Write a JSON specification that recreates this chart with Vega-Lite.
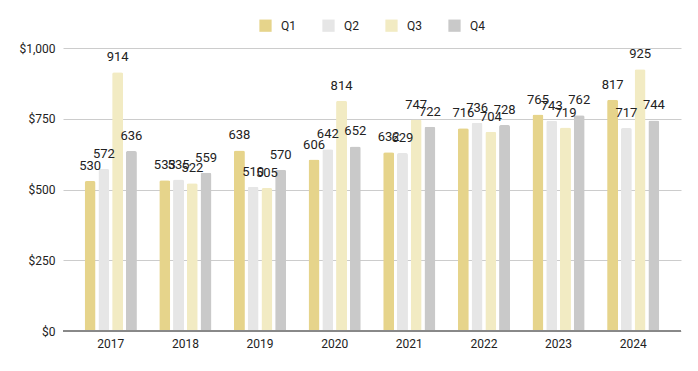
{
  "$schema": "https://vega.github.io/schema/vega-lite/v6.json",
  "width": 698,
  "height": 371,
  "autosize": {"type": "fit", "contains": "padding"},
  "padding": {"left": 18, "right": 16, "top": 19, "bottom": 22},
  "background": "white",
  "config": {
    "font": "Roboto",
    "view": {"stroke": null},
    "axis": {"labelFont": "Roboto", "labelFontSize": 12, "labelColor": "#222222"},
    "legend": {"labelFont": "Roboto", "labelFontSize": 12, "labelColor": "#222222", "layout": {"top": {"anchor": "middle"}}}
  },
  "data": {
    "values": [
      {"year": "2017", "q": "Q1", "v": 530}, {"year": "2017", "q": "Q2", "v": 572}, {"year": "2017", "q": "Q3", "v": 914}, {"year": "2017", "q": "Q4", "v": 636},
      {"year": "2018", "q": "Q1", "v": 533}, {"year": "2018", "q": "Q2", "v": 535}, {"year": "2018", "q": "Q3", "v": 522}, {"year": "2018", "q": "Q4", "v": 559},
      {"year": "2019", "q": "Q1", "v": 638}, {"year": "2019", "q": "Q2", "v": 510}, {"year": "2019", "q": "Q3", "v": 505}, {"year": "2019", "q": "Q4", "v": 570},
      {"year": "2020", "q": "Q1", "v": 606}, {"year": "2020", "q": "Q2", "v": 642}, {"year": "2020", "q": "Q3", "v": 814}, {"year": "2020", "q": "Q4", "v": 652},
      {"year": "2021", "q": "Q1", "v": 632}, {"year": "2021", "q": "Q2", "v": 629}, {"year": "2021", "q": "Q3", "v": 747}, {"year": "2021", "q": "Q4", "v": 722},
      {"year": "2022", "q": "Q1", "v": 716}, {"year": "2022", "q": "Q2", "v": 736}, {"year": "2022", "q": "Q3", "v": 704}, {"year": "2022", "q": "Q4", "v": 728},
      {"year": "2023", "q": "Q1", "v": 765}, {"year": "2023", "q": "Q2", "v": 743}, {"year": "2023", "q": "Q3", "v": 719}, {"year": "2023", "q": "Q4", "v": 762},
      {"year": "2024", "q": "Q1", "v": 817}, {"year": "2024", "q": "Q2", "v": 717}, {"year": "2024", "q": "Q3", "v": 925}, {"year": "2024", "q": "Q4", "v": 744}
    ]
  },
  "encoding": {
    "x": {
      "field": "year", "type": "nominal",
      "scale": {"paddingInner": 0.3, "paddingOuter": 0.29},
      "axis": {"title": null, "labelAngle": 0, "ticks": false, "domain": false, "labelPadding": 7}
    },
    "xOffset": {"field": "q", "type": "nominal", "scale": {"paddingInner": 0.2}},
    "y": {
      "field": "v", "type": "quantitative",
      "scale": {"domain": [0, 1000]},
      "axis": {"title": null, "values": [0, 250, 500, 750, 1000], "format": "$,.0f", "ticks": false, "domain": false, "gridColor": "#cccccc", "labelPadding": 8}
    }
  },
  "layer": [
    {
      "mark": {"type": "bar", "cornerRadiusTopLeft": 2, "cornerRadiusTopRight": 2},
      "encoding": {
        "color": {
          "field": "q", "type": "nominal",
          "scale": {"domain": ["Q1", "Q2", "Q3", "Q4"], "range": ["#e6d48b", "#e6e6e6", "#f2ebc3", "#c9c9c9"]},
          "legend": {"title": null, "orient": "top", "direction": "horizontal", "symbolType": "square", "symbolSize": 150, "symbolStrokeWidth": 0, "columnPadding": 26, "labelOffset": 9, "offset": 16}
        }
      }
    },
    {
      "mark": {"type": "text", "baseline": "bottom", "dy": -8, "fontSize": 13, "color": "#222222", "font": "Roboto"},
      "encoding": {"text": {"field": "v", "type": "quantitative"}}
    },
    {
      "mark": {"type": "rule", "color": "#888888"},
      "encoding": {"y": {"datum": 0}, "x": null, "xOffset": null}
    }
  ]
}
